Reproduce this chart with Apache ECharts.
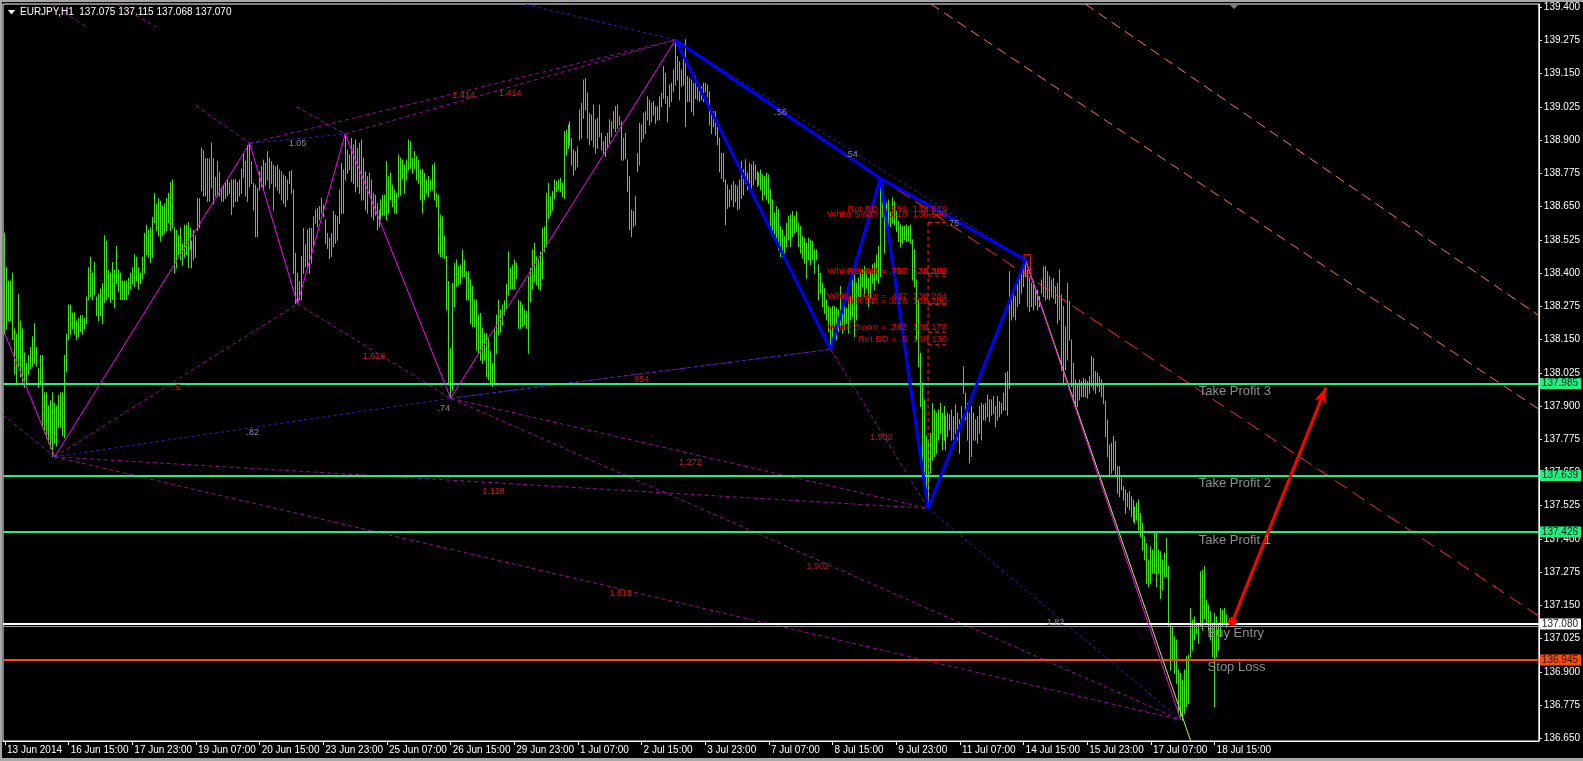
<!DOCTYPE html>
<html><head><meta charset="utf-8">
<script src="https://cdn.jsdelivr.net/npm/echarts@6/dist/echarts.min.js"></script>
<style>html,body{margin:0;padding:0;background:#000;}#c{width:1583px;height:761px;}</style>
</head><body><div id="c"></div>
<script>
// ---------- DATA ----------
const tickLabels = ['13 Jun 2014','16 Jun 15:00','17 Jun 23:00','19 Jun 07:00','20 Jun 15:00','23 Jun 23:00','25 Jun 07:00','26 Jun 15:00','29 Jun 23:00','1 Jul 07:00','2 Jul 15:00','3 Jul 23:00','7 Jul 07:00','8 Jul 15:00','9 Jul 23:00','11 Jul 07:00','14 Jul 15:00','15 Jul 23:00','17 Jul 07:00','18 Jul 15:00'];
const xTickBars = [0,32,64,96,128,160,192,224,256,288,320,352,384,416,448,480,512,544,576,608];
const yTicks = [136.650,136.775,136.900,137.025,137.150,137.275,137.400,137.525,137.650,137.775,137.900,138.025,138.150,138.275,138.400,138.525,138.650,138.775,138.900,139.025,139.150,139.275,139.400];

const barHigh = [
138.55,138.42,138.37,138.37,138.40,138.19,138.17,138.32,138.22,138.19,
138.10,138.06,138.09,138.12,138.16,138.21,138.12,138.04,138.09,138.09,
137.95,137.95,137.90,137.92,137.95,137.91,137.90,137.94,137.95,137.95,
138.09,138.17,138.28,138.28,138.25,138.25,138.22,138.23,138.24,138.24,
138.23,138.31,138.42,138.46,138.40,138.44,138.31,138.32,138.34,138.36,
138.54,138.52,138.41,138.40,138.44,138.41,138.50,138.41,138.40,138.37,
138.37,138.37,138.38,138.40,138.42,138.47,138.46,138.42,138.40,138.46,
138.55,138.58,138.56,138.57,138.61,138.70,138.66,138.68,138.67,138.65,
138.66,138.68,138.70,138.74,138.75,138.57,138.56,138.54,138.57,138.51,
138.58,138.58,138.59,138.57,138.52,138.56,138.54,138.68,138.68,138.87,
138.86,138.83,138.83,138.83,138.89,138.83,138.76,138.82,138.78,138.72,
138.73,138.74,138.75,138.74,138.75,138.75,138.75,138.74,138.75,138.79,
138.85,138.82,138.88,
138.888,138.819,138.737,138.731,138.719,138.781,138.800,138.825,138.813,138.857,
138.832,138.819,138.806,138.800,138.806,138.788,138.781,138.769,138.763,138.750,
138.781,138.785,138.712,138.474,138.399,138.368,138.462,138.568,138.506,138.562,
138.568,138.568,138.612,138.637,138.643,138.650,138.681,138.656,138.600,138.549,
138.531,138.549,138.631,138.618,138.612,138.712,138.813,138.788,138.919,138.863,
138.844,138.907,138.882,138.901,138.869,138.888,138.901,138.832,138.781,138.763,
138.775,138.750,138.700,138.693,138.662,138.637,138.675,138.693,138.693,138.819,
138.763,138.775,138.731,138.712,138.700,138.844,138.832,138.825,138.806,138.825,
138.901,138.894,138.832,138.857,138.838,138.825,138.788,138.788,138.775,138.750,
138.763,138.750,138.806,138.813,138.700,138.693,138.618,138.612,138.537,138.462,
138.368,138.117,138.361,138.437,138.449,138.424,138.430,138.487,138.449,138.405,
138.405,138.374,138.349,138.299,138.299,138.242,138.248,138.192,138.173,138.173,
138.154,138.104,138.060,138.186,138.242,
138.298,138.261,138.280,138.295,138.357,138.480,138.418,138.430,138.449,138.436,
138.298,138.292,138.280,138.261,138.255,138.386,138.418,138.487,138.512,138.461,
138.449,138.480,138.568,138.574,138.700,138.737,138.687,138.706,138.750,138.744,
138.750,138.756,138.737,138.932,138.938,138.957,138.969,138.907,138.863,138.856,
138.875,139.013,139.038,139.126,139.132,139.076,139.001,138.994,139.032,138.976,
138.982,139.032,138.925,138.894,138.913,138.925,138.976,138.969,139.007,139.026,
139.032,138.988,138.969,138.907,138.925,138.825,138.762,138.637,138.631,138.687,
138.850,138.963,138.957,139.001,139.007,139.063,139.051,139.038,139.045,139.026,
139.026,139.063,139.076,139.176,139.151,139.063,139.107,139.114,139.164,139.273,
139.214,139.195,139.164,139.208,139.277,139.139,139.132,139.126,139.114,139.139,
139.101,139.088,139.101,139.114,139.114,139.107,139.082,139.013,139.007,139.007,
138.951,138.907,138.850,138.850,138.750,138.731,138.712,138.731,138.744,138.731,
138.725,138.750,138.819,
138.788,138.826,138.776,138.813,138.807,138.819,138.807,138.782,138.776,138.788,
138.769,138.763,138.776,138.769,138.713,138.675,138.625,138.650,138.638,138.575,
138.562,138.537,138.588,138.613,138.619,138.631,138.613,138.631,138.588,138.575,
138.537,138.531,138.512,138.531,138.525,138.519,138.487,138.487,138.431,138.399,
138.362,138.343,138.299,138.274,138.268,138.274,138.274,138.268,138.261,138.349,
138.249,138.274,138.268,138.293,138.312,138.374,138.393,138.362,138.381,138.399,
138.412,138.424,138.412,138.381,138.406,138.431,138.437,138.468,138.500,138.757,
138.700,138.669,138.663,138.675,138.631,138.682,138.669,138.631,138.594,138.581,
138.575,138.575,138.581,138.575,138.581,138.525,138.487,138.374,138.299,138.098,
137.986,137.923,137.785,137.772,137.797,137.910,137.885,137.873,137.885,137.910,
137.873,137.898,137.860,137.873,137.866,137.885,137.860,137.904,137.873,137.848,
137.898,138.048,137.948,137.910,137.873,137.898,137.873,137.848,137.860,137.898,
137.910,137.904,
137.910,137.941,137.923,137.923,137.935,137.898,137.935,137.916,137.910,137.948,
138.023,138.029,138.405,138.299,138.336,138.311,138.361,138.399,138.412,138.437,
138.456,138.412,138.380,138.361,138.368,138.336,138.336,138.311,138.374,138.424,
138.424,138.405,138.387,138.374,138.380,138.349,138.361,138.412,138.318,138.274,
138.198,138.361,138.293,138.148,138.061,137.998,137.985,137.998,137.992,138.004,
137.998,137.992,138.010,138.086,138.079,138.029,138.023,138.010,137.998,137.985,
137.916,137.847,137.753,137.760,137.785,137.766,137.672,137.672,137.628,137.597,
137.584,137.571,137.578,137.559,137.546,137.521,137.534,137.546,137.496,137.459,
137.408,137.383,137.321,137.371,137.358,137.421,137.421,137.358,137.352,137.321,
137.346,137.402,137.296,137.082,137.070,137.032,137.020,136.907,136.894,136.869,
136.907,136.957,136.963,137.139,137.095,137.107,137.082,137.082,137.277,137.283,
137.296,137.170,137.151,137.126,137.082,137.120,137.107,137.082,137.139,137.133,
137.139,137.115
];
const barLow = [
138.17,138.19,138.22,138.22,138.15,138.02,137.98,138.05,138.01,137.99,
137.97,137.98,138.02,138.04,138.05,138.06,138.05,137.97,137.98,137.82,
137.80,137.78,137.76,137.74,137.71,137.76,137.75,137.82,137.82,137.79,
137.78,138.03,138.15,138.17,138.19,138.17,138.15,138.16,138.18,138.17,
138.19,138.21,138.30,138.31,138.30,138.32,138.24,138.22,138.24,138.21,
138.29,138.30,138.31,138.29,138.30,138.27,138.36,138.33,138.30,138.30,
138.30,138.30,138.32,138.34,138.36,138.35,138.37,138.34,138.36,138.38,
138.40,138.47,138.46,138.44,138.46,138.59,138.56,138.54,138.52,138.54,
138.55,138.56,138.59,138.56,138.57,138.40,138.42,138.47,138.45,138.43,
138.46,138.47,138.42,138.49,138.42,138.45,138.46,138.56,138.57,138.71,
138.69,138.69,138.67,138.67,138.72,138.66,138.69,138.69,138.69,138.67,
138.67,138.68,138.69,138.70,138.62,138.65,138.67,138.67,138.69,138.70,
138.76,138.69,138.67,
138.725,138.737,138.637,138.537,138.537,138.712,138.725,138.712,138.731,138.750,
138.719,138.737,138.637,138.725,138.712,138.700,138.675,138.662,138.650,138.675,
138.737,138.700,138.399,138.286,138.286,138.299,138.299,138.399,138.424,138.418,
138.399,138.437,138.499,138.587,138.574,138.600,138.625,138.612,138.512,138.493,
138.455,138.462,138.499,138.512,138.524,138.587,138.625,138.625,138.750,138.775,
138.788,138.744,138.737,138.706,138.725,138.700,138.675,138.675,138.637,138.625,
138.693,138.612,138.600,138.618,138.562,138.574,138.600,138.618,138.618,138.600,
138.625,138.675,138.650,138.625,138.625,138.687,138.693,138.756,138.700,138.750,
138.788,138.794,138.775,138.794,138.750,138.737,138.675,138.625,138.675,138.700,
138.687,138.712,138.712,138.675,138.650,138.474,138.462,138.462,138.455,138.261,
137.985,137.931,137.960,138.274,138.349,138.355,138.361,138.386,138.386,138.299,
138.299,138.211,138.198,138.198,138.110,138.098,138.073,138.060,138.073,138.010,
137.998,137.985,137.973,137.985,138.098,
138.167,138.179,138.205,138.242,138.267,138.317,138.342,138.340,138.342,138.380,
138.192,138.192,138.198,138.205,138.192,138.098,138.292,138.342,138.367,138.355,
138.342,138.336,138.380,138.480,138.499,138.606,138.618,138.637,138.681,138.706,
138.712,138.706,138.687,138.681,138.844,138.869,138.882,138.806,138.769,138.788,
138.800,138.900,138.907,138.982,139.013,138.907,138.882,138.900,138.875,138.850,
138.869,138.913,138.863,138.850,138.838,138.869,138.888,138.913,138.944,138.932,
138.944,138.957,138.825,138.825,138.831,138.706,138.562,138.537,138.574,138.581,
138.781,138.806,138.894,138.907,138.925,138.976,138.957,138.969,138.994,138.963,
138.976,138.976,139.026,139.057,139.038,138.969,139.026,139.045,139.082,139.107,
139.126,139.051,139.101,139.107,138.951,139.045,139.045,139.007,138.994,139.057,
139.051,139.045,139.051,139.045,139.082,139.063,138.957,138.925,138.951,138.919,
138.882,138.781,138.756,138.744,138.581,138.643,138.650,138.675,138.650,138.668,
138.637,138.643,138.681,
138.694,138.738,138.713,138.738,138.707,138.732,138.751,138.725,138.732,138.713,
138.675,138.694,138.675,138.663,138.562,138.537,138.537,138.512,138.487,138.462,
138.462,138.475,138.500,138.525,138.500,138.537,138.550,138.556,138.500,138.475,
138.456,138.437,138.381,138.450,138.431,138.450,138.399,138.450,138.299,138.324,
138.274,138.249,138.224,138.180,138.113,138.149,138.199,138.149,138.180,138.199,
138.174,138.186,138.211,138.174,138.224,138.236,138.161,138.224,138.312,138.312,
138.349,138.312,138.343,138.274,138.305,138.362,138.337,138.374,138.362,138.387,
138.613,138.475,138.575,138.581,138.575,138.588,138.581,138.556,138.519,138.500,
138.512,138.525,138.519,138.519,138.512,138.374,138.349,138.149,138.048,137.898,
137.647,137.584,137.547,137.522,137.647,137.697,137.710,137.722,137.772,137.797,
137.735,137.772,137.735,137.785,137.810,137.772,137.747,137.797,137.772,137.722,
137.823,137.948,137.848,137.772,137.685,137.710,137.772,137.772,137.760,137.797,
137.772,137.848,
137.847,137.860,137.841,137.866,137.872,137.822,137.847,137.860,137.872,137.885,
137.885,137.866,137.966,138.224,138.236,138.224,138.274,138.286,138.324,138.349,
138.387,138.274,138.255,138.274,138.261,138.280,138.261,138.274,138.324,138.311,
138.299,138.305,138.299,138.311,138.305,138.286,138.211,138.224,138.035,137.985,
138.035,138.073,138.148,137.973,137.935,137.898,137.898,137.923,137.935,137.935,
137.935,137.929,137.948,137.973,137.960,137.948,137.973,137.954,137.935,137.910,
137.785,137.709,137.634,137.647,137.659,137.634,137.572,137.559,137.584,137.546,
137.496,137.521,137.509,137.484,137.465,137.459,137.471,137.434,137.408,137.358,
137.321,137.233,137.220,137.233,137.271,137.271,137.220,137.271,137.176,137.208,
137.258,137.258,137.070,136.907,136.944,136.894,136.857,136.744,136.731,136.719,
136.744,136.769,136.781,136.957,136.982,137.020,137.045,137.007,137.070,137.057,
137.101,137.082,137.057,137.020,136.957,136.769,136.957,136.982,137.032,137.070,
137.082,137.068
];

// pattern pivots [bar index, price]
const P0 = [0, 138.17];
const L1 = [25, 137.709];
const H1 = [123, 138.888];
const L2 = [147, 138.284];
const H2 = [171, 138.923];
const L3 = [224, 137.929];
const X  = [337, 139.277];
const A  = [415, 138.113];
const B  = [440, 138.757];
const C  = [464, 137.515];
const D  = [513, 138.449];
const E  = [591, 136.719];

// extra line ends
const leftIntoL1 = [-1, 137.866];
const frag1 = [[24, 139.409], [41, 139.326]];
const intoH1 = [96, 139.03];
const frag2 = [[56.5, 139.409], [76, 139.326]];
const intoH2 = [146.5, 139.025];
const topIntoX = [262, 139.41];
const greenTail = [596, 136.64];
const channelOuter = [[543, 139.412], [771, 138.24]];
const channelMid = [[465.4, 139.412], [771, 137.888]];
const channelRed = [[440, 138.757], [771, 137.11]];

// horizontal trade levels
const tpLevels = [137.985, 137.639, 137.426];
const buyLevel = 137.080;
const bidLevel = 137.070;
const slLevel = 136.945;
const arrowFrom = [617, 137.09];
const arrowTo = [664, 137.97];

// Ret BD / White Swan levels
const swanLevels = [138.619, 138.590, 138.399, 138.389, 138.284, 138.280, 138.178, 138.130];
const swanTexts = [
  [473.5, 138.641, 'Ret BD = .886  138.619'],
  [473.5, 138.619, 'White Swan = .618  138.590'],
  [473.5, 138.407, 'White Swan = .786  138.398'],
  [473.5, 138.407, 'Ret BD = .707  138.389'],
  [473.5, 138.313, 'White Swan = .447  138.284'],
  [473.5, 138.294, 'Ret BD = .618  138.280'],
  [473.5, 138.196, 'White Swan = .382  138.178'],
  [473.5, 138.151, 'Ret BD = .5  138.130']
];
const redRatioLabels = [
  [86.5, 137.971, '.5'], [185.5, 138.085, '1.618'], [230.5, 139.066, '1.414'], [254, 139.077, '1.414'],
  [344.5, 137.689, '1.272'], [245.5, 137.580, '1.128'], [309.5, 137.193, '1.618']
];
const darkRatioLabels = [[440.5, 137.780, '1.902'], [408.5, 137.298, '1.902'], [319.5, 138.001, '.854']];
const greyRatioLabels = [
  [147, 138.887, '1.05'], [220.5, 137.889, '.74'], [528, 137.084, '1.82'],
  [390, 139.002, '.56'], [425.5, 138.845, '.54'], [476.5, 138.588, '.75']
];
const blueRatioLabels = [[124.5, 137.799, '.82']];
const tradeTexts = [
  [600, 137.953, 'Take Profit 3'], [600, 137.610, 'Take Profit 2'], [600, 137.396, 'Take Profit 1'],
  [604.5, 137.046, 'Buy Entry'], [604.5, 136.918, 'Stop Loss']
];
const dRect = [[512.2, 138.469], [515.4, 138.469], [515.4, 138.400], [512.2, 138.400], [512.2, 138.469]];

// ---------- CHART ----------
const FONT = '"Liberation Sans", Arial, sans-serif';
const series = [];
function seg(pts, color, width, type, z) {
  series.push({ type: 'line', data: pts, symbol: 'none', showSymbol: false, silent: true, animation: false,
    lineStyle: { color: color, width: width, type: type || 'solid' }, z: z || 3, clip: true });
}
function texts(items, color, size, align) {
  series.push({ type: 'custom', silent: true, animation: false, z: 8, clip: true,
    data: items.map(t => [t[0], t[1]]),
    renderItem: (params, api) => {
      const p = api.coord([api.value(0), api.value(1)]);
      return { type: 'text', x: p[0], y: p[1], style: { text: items[params.dataIndex][2], fill: color,
        font: size + 'px ' + FONT, align: align || 'center', verticalAlign: 'middle' } };
    } });
}

// price bars
series.push({
  type: 'custom', silent: true, animation: false, z: 2, clip: true,
  data: barHigh.map((h, i) => [i, barLow[i], h]),
  encode: { x: 0, y: [1, 2] },
  renderItem: (params, api) => {
    const a = api.coord([api.value(0), api.value(1)]);
    const b = api.coord([api.value(0), api.value(2)]);
    const x = Math.floor(a[0]) + 0.5;
    return { type: 'line', shape: { x1: x, y1: a[1] + 0.5, x2: x, y2: b[1] - 0.5 },
      style: { stroke: '#40e020', lineWidth: 1 } };
  }
});

const PURP = '#9a0a9a', BLUED = '#2424c8', DASH = [4, 3];
// purple dashed
[[leftIntoL1, L1], frag1, [intoH1, H1], frag2, [intoH2, H2], [L1, L2], [L1, C], [L1, E], [L2, L3],
 [H1, X], [H2, X], [L3, A], [L3, C], [L3, E], [A, C]].forEach(p => seg(p, PURP, 1, DASH, 3));
// blue dashed
[[L1, L3], [H1, H2], [L3, A], [C, E], [X, D], [topIntoX, X]].forEach(p => seg(p, BLUED, 1, [3, 3], 3));
// channel lines
seg(channelOuter, '#ff7a52', 1, [10, 6], 3);
seg(channelMid, '#ff7a52', 1, [10, 6], 3);
seg(channelRed, '#ff2a2a', 1, [14, 7], 3);
// red swan marks
seg([[464, swanLevels[1]], [464, C[1]]], '#ff2020', 1, [4, 3], 4);
swanLevels.forEach(l => seg([[464, l], [473.5, l]], '#ff2020', 1, [4, 3], 4));
seg(dRect, '#ff2020', 1, 'solid', 5);
// solid pattern lines
seg([D, greenTail], '#adff2f', 1, 'solid', 4);
seg([P0, L1, H1, L2, H2, L3, X], '#ff00ff', 1, 'solid', 5);
seg([D, E], '#ff00ff', 1, 'solid', 5);
seg([X, A, B, C, D], '#0000ff', 3, 'solid', 6);
seg([X, B, D], '#0000ff', 3, 'solid', 6);

// horizontal levels with axis tags
function lvlLabel(v, bg, fg) {
  return { show: true, position: 'end', distance: 1, formatter: () => v.toFixed(3),
    backgroundColor: bg, color: fg, fontSize: 10, fontFamily: FONT, padding: [1, 3, 0, 2] };
}
series.push({
  type: 'line', data: [], silent: true, animation: false, z: 7,
  markLine: { silent: true, animation: false, symbol: ['none', 'none'], precision: 3,
    data: [
      ...tpLevels.map(v => ({ yAxis: v, lineStyle: { color: '#22f07e', width: 2, type: 'solid' }, label: lvlLabel(v, '#22f07e', '#1a1a1a') })),
      { yAxis: bidLevel, lineStyle: { color: '#9a9aa0', width: 1, type: 'solid' }, label: { show: false } },
      { yAxis: buyLevel, lineStyle: { color: '#ffffff', width: 2, type: 'solid' }, label: lvlLabel(buyLevel, '#ffffff', '#1a1a1a') },
      { yAxis: slLevel, lineStyle: { color: '#ff4a0a', width: 2, type: 'solid' }, label: lvlLabel(slLevel, '#ff4a0a', '#1a1a1a') }
    ] }
});
// arrow
series.push({
  type: 'line', data: [], silent: true, animation: false, z: 9,
  markLine: { silent: true, animation: false, symbol: ['circle', 'arrow'], symbolSize: [9, 16],
    lineStyle: { color: '#ff0000', width: 3, type: 'solid' }, label: { show: false },
    data: [[{ coord: arrowFrom }, { coord: arrowTo }]] }
});

texts(swanTexts, '#e80000', 9.5, 'right');
texts(redRatioLabels, '#e01818', 9, 'center');
texts(darkRatioLabels, '#a82020', 9, 'center');
texts(greyRatioLabels, '#8c8c8c', 9, 'center');
texts(blueRatioLabels, '#7f8db8', 9, 'center');
texts(tradeTexts, '#8f8f8f', 13, 'left');

const chart = echarts.init(document.getElementById('c'), null, { renderer: 'canvas' });
chart.setOption({
  backgroundColor: '#000000',
  animation: false,
  grid: { left: 3, top: 4, right: 36, bottom: 20, show: true, borderColor: '#ffffff', borderWidth: 1, backgroundColor: '#000' },
  xAxis: {
    type: 'value', min: -1, max: 771,
    axisLine: { show: true, onZero: false, lineStyle: { color: '#ffffff', width: 1 } },
    axisTick: { show: true, customValues: xTickBars, length: 4, lineStyle: { color: '#ffffff' } },
    axisLabel: { show: true, customValues: xTickBars, formatter: v => tickLabels[Math.round(v / 32)] || '',
      color: '#ffffff', fontSize: 10, fontFamily: FONT, align: 'left', margin: 4, padding: [0, 0, 0, 2] },
    splitLine: { show: false }
  },
  yAxis: {
    type: 'value', position: 'right', min: 136.640, max: 139.412, scale: true,
    axisLine: { show: true, onZero: false, lineStyle: { color: '#ffffff', width: 1 } },
    axisTick: { show: true, customValues: yTicks, length: 3, lineStyle: { color: '#ffffff' } },
    axisLabel: { show: true, customValues: yTicks, formatter: v => v.toFixed(3), color: '#ffffff', fontSize: 10, fontFamily: FONT, margin: 5 },
    splitLine: { show: false }
  },
  graphic: [
    { type: 'rect', shape: { x: 0, y: 0, width: 1583, height: 2 }, style: { fill: '#a8a8a8' }, z: 100 },
    { type: 'rect', shape: { x: 0, y: 0, width: 2, height: 761 }, style: { fill: '#a8a8a8' }, z: 100 },
    { type: 'rect', shape: { x: 0, y: 758, width: 1583, height: 3 }, style: { fill: '#a8a8a8' }, z: 100 },
    { type: 'polygon', shape: { points: [[8, 10], [15, 10], [11.5, 14.5]] }, style: { fill: '#ffffff' }, z: 100 },
    { type: 'text', x: 20, y: 7, style: { text: 'EURJPY,H1  137.075 137.115 137.068 137.070', fill: '#ffffff', font: '10px ' + FONT }, z: 100 },
    { type: 'polygon', shape: { points: [[1229, 4], [1239, 4], [1234, 9]] }, style: { fill: '#7c7c7c' }, z: 100 }
  ],
  series: series
});
</script>
</body></html>
